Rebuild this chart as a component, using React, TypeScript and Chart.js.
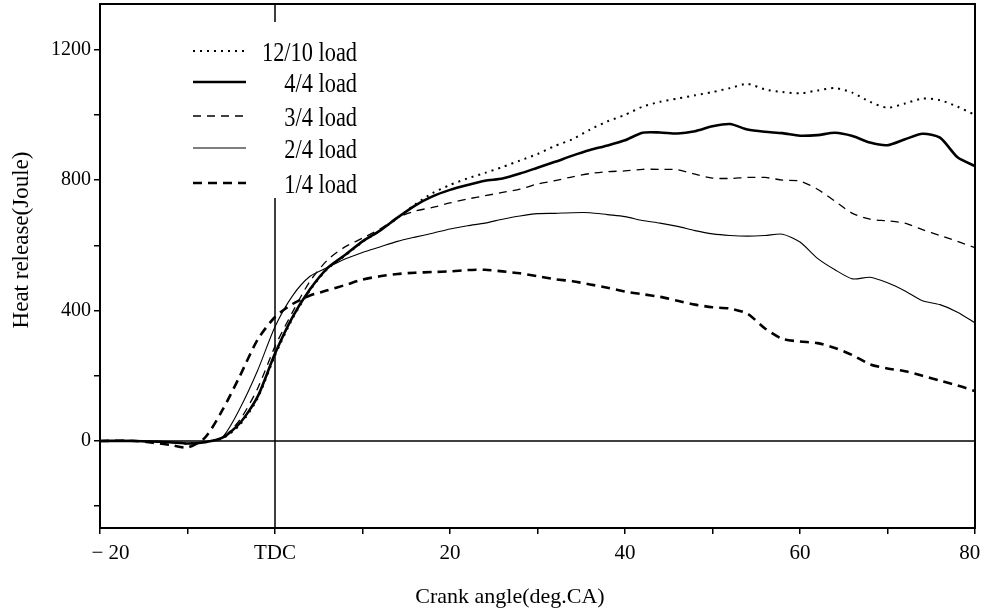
import React, { useEffect, useRef } from "react";
import { Chart, registerables } from "chart.js";

Chart.register(...registerables);

// Crank angle (deg CA), 0 = TDC
const angles = [-20, -16, -12, -10, -8, -6, -4, -2, 0, 2, 4, 6, 8, 10, 12, 14, 16, 18, 20, 22, 24, 26, 28, 30, 32, 34, 36, 38, 40, 42, 44, 46, 48, 50, 52, 54, 56, 58, 60, 62, 64, 66, 68, 70, 72, 74, 76, 78, 80];

// Heat release (Joule)
const load12_10 = [0, 0, -4, -8, -4, 8, 50, 130, 262, 375, 462, 528, 568, 610, 645, 684, 725, 760, 785, 805, 822, 840, 860, 880, 905, 925, 955, 980, 1000, 1025, 1040, 1050, 1060, 1070, 1082, 1095, 1078, 1070, 1066, 1075, 1082, 1068, 1040, 1022, 1035, 1050, 1045, 1025, 1000];
const load4_4 = [0, 0, -4, -8, -4, 10, 55, 135, 268, 380, 465, 530, 570, 612, 645, 685, 722, 750, 770, 785, 798, 805, 820, 838, 856, 875, 892, 906, 922, 945, 946, 943, 950, 965, 972, 955, 948, 944, 936, 938, 945, 935, 915, 907, 925, 942, 930, 870, 843];
const load3_4 = [0, 0, -4, -8, -3, 10, 65, 160, 290, 395, 490, 555, 595, 622, 650, 685, 705, 716, 730, 742, 752, 762, 772, 788, 798, 810, 820, 826, 828, 833, 833, 832, 818, 806, 805, 808, 808, 800, 797, 772, 735, 698, 680, 675, 668, 648, 630, 612, 593];
const load2_4 = [0, 0, -4, -8, -3, 12, 100, 215, 350, 445, 505, 532, 558, 578, 595, 612, 625, 637, 650, 660, 668, 680, 690, 697, 698, 700, 700, 694, 688, 676, 668, 658, 645, 635, 630, 628, 630, 634, 610, 560, 525, 497, 502, 485, 460, 430, 418, 395, 362];
const load1_4 = [0, 0, -12, -20, 10, 95, 200, 310, 380, 420, 446, 462, 478, 495, 505, 512, 516, 518, 520, 524, 525, 520, 514, 505, 496, 490, 480, 470, 458, 450, 442, 430, 418, 410, 406, 390, 345, 313, 305, 300, 285, 263, 235, 222, 214, 200, 185, 170, 153];

const seriesLabels = ["12/10 load", "4/4 load", "3/4 load", "2/4 load", "1/4 load"];
const yTickValues = [-200, 0, 200, 400, 600, 800, 1000, 1200];
const yLabelValues = [0, 400, 800, 1200];
const xTitle = "Crank angle(deg.CA)";
const yTitle = "Heat release(Joule)";

const FONT = '"Liberation Serif", "Times New Roman", serif';

const styles = [
  { width: 2, dash: [2, 5] },
  { width: 2.6, dash: [] },
  { width: 1.3, dash: [8, 6] },
  { width: 1.1, dash: [] },
  { width: 2.6, dash: [9, 6] },
];

const toPoints = (vals: number[]) => vals.map((v, i) => ({ x: angles[i], y: v }));

const overlayPlugin = {
  id: "overlay",
  beforeDatasetsDraw(chart: any) {
    const { ctx, chartArea: a, scales } = chart;
    const y0 = scales.y.getPixelForValue(0);
    const x0 = scales.x.getPixelForValue(0);
    ctx.save();
    ctx.strokeStyle = "#000";
    ctx.lineWidth = 1.5;
    ctx.beginPath();
    ctx.moveTo(a.left, y0);
    ctx.lineTo(a.right, y0);
    ctx.moveTo(x0, a.top);
    ctx.lineTo(x0, a.bottom);
    ctx.stroke();
    ctx.restore();
  },
  afterDatasetsDraw(chart: any) {
    const { ctx, chartArea: a } = chart;
    ctx.save();
    // frame
    ctx.strokeStyle = "#000";
    ctx.lineWidth = 2;
    ctx.strokeRect(a.left, a.top, a.right - a.left, a.bottom - a.top);

    // legend
    ctx.fillStyle = "#fff";
    ctx.fillRect(185, 22, 180, 176);
    const rowY = [51, 82, 116, 148, 183];
    ctx.font = `28px ${FONT}`;
    const refW = ctx.measureText(seriesLabels[0]).width;
    const sx = 95 / refW;
    seriesLabels.forEach((lab, i) => {
      const st = styles[i];
      ctx.strokeStyle = "#000";
      ctx.lineWidth = st.width;
      ctx.setLineDash(st.dash);
      ctx.beginPath();
      ctx.moveTo(193, rowY[i]);
      ctx.lineTo(246, rowY[i]);
      ctx.stroke();
      ctx.setLineDash([]);
      ctx.fillStyle = "#000";
      ctx.textAlign = "right";
      ctx.textBaseline = "alphabetic";
      ctx.save();
      ctx.translate(357, rowY[i] + 10);
      ctx.scale(sx, 1);
      ctx.fillText(lab, 0, 0);
      ctx.restore();
    });

    // axis titles
    ctx.fillStyle = "#000";
    ctx.textAlign = "center";
    ctx.textBaseline = "middle";
    ctx.font = `22px ${FONT}`;
    ctx.fillText(xTitle, 510, 597);
    ctx.save();
    ctx.translate(22, 240);
    ctx.rotate(-Math.PI / 2);
    ctx.font = `23px ${FONT}`;
    ctx.fillText(yTitle, 0, 0);
    ctx.restore();
    ctx.restore();
  },
};

export default function App() {
  const ref = useRef<HTMLCanvasElement | null>(null);

  useEffect(() => {
    if (!ref.current) return;
    const data = [load12_10, load4_4, load3_4, load2_4, load1_4];
    const chart = new Chart(ref.current, {
      type: "line",
      data: {
        datasets: data.map((vals, i) => ({
          label: seriesLabels[i],
          data: toPoints(vals),
          borderColor: "#000",
          backgroundColor: "#000",
          borderWidth: styles[i].width,
          borderDash: styles[i].dash,
          borderCapStyle: "butt",
          pointRadius: 0,
          tension: 0.25,
          fill: false,
        })),
      },
      options: {
        animation: false,
        responsive: false,
        devicePixelRatio: 1,
        layout: { padding: { top: 4, right: 8, left: 0, bottom: 0 } },
        plugins: { legend: { display: false }, tooltip: { enabled: false } },
        scales: {
          x: {
            type: "linear",
            min: -20,
            max: 80,
            afterFit: (s: any) => {
              s.height = 82;
              s.paddingLeft = 0;
              s.paddingRight = 0;
            },
            border: { display: false },
            grid: { drawOnChartArea: false, drawTicks: true, tickLength: 6, color: "#000", lineWidth: 1.5 },
            ticks: {
              stepSize: 10,
              autoSkip: false,
              maxRotation: 0,
              padding: 7,
              color: "#000",
              font: { family: FONT, size: 21 },
              callback: (v: any) => {
                if (v === 0) return "TDC";
                if (v % 20 !== 0) return "";
                if (v < 0) return "\u2002\u2002\u2212 " + Math.abs(v);
                if (v === 80) return "80\u2002";
                return String(v);
              },
            },
          },
          y: {
            type: "linear",
            min: -267,
            max: 1340,
            afterFit: (s: any) => {
              s.width = 100;
              s.paddingTop = 0;
              s.paddingBottom = 0;
            },
            afterBuildTicks: (s: any) => {
              s.ticks = yTickValues.map((v) => ({ value: v }));
            },
            border: { display: false },
            grid: { drawOnChartArea: false, drawTicks: true, tickLength: 6, color: "#000", lineWidth: 1.5 },
            ticks: {
              padding: 3,
              color: "#000",
              font: { family: FONT, size: 20 },
              callback: (v: any) => (yLabelValues.includes(v) ? String(v) : ""),
            },
          },
        },
      },
      plugins: [overlayPlugin],
    } as any);
    return () => chart.destroy();
  }, []);

  return (
    <div style={{ position: "fixed", left: 0, top: 0, width: 983, height: 610, background: "#fff" }}>
      <canvas ref={ref} width={983} height={610} style={{ display: "block", width: 983, height: 610 }} />
    </div>
  );
}
